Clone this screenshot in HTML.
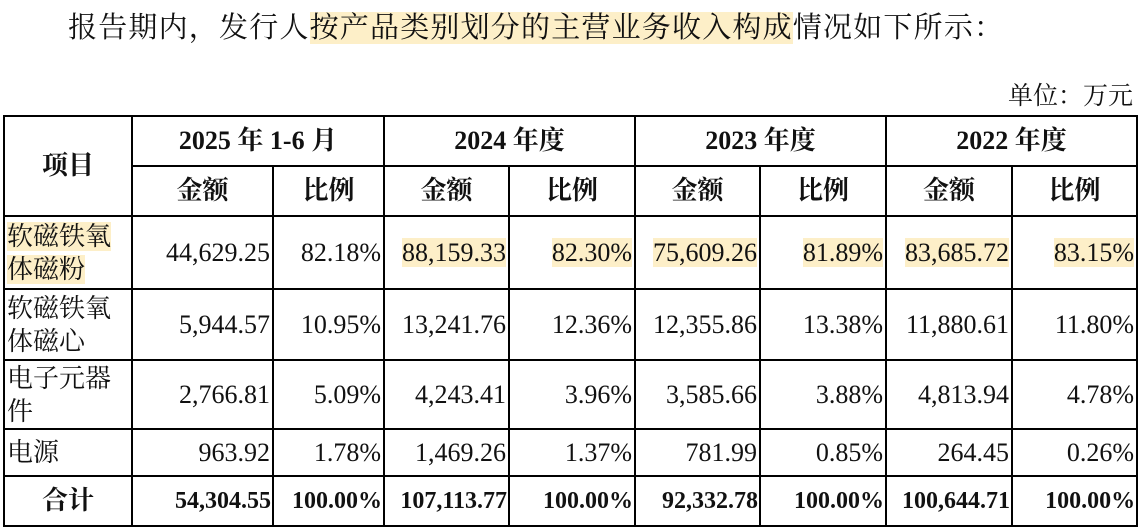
<!DOCTYPE html>
<html><head><meta charset="utf-8"><style>
body{margin:0;width:1141px;height:531px;background:#fff;position:relative;overflow:hidden;font-family:"Liberation Serif","Noto Serif CJK SC",serif;color:#111}
.t{position:absolute;left:68px;top:10px;font-size:29px;letter-spacing:1.2px;line-height:36px;white-space:nowrap}
.h{background:#fdefc8}
.u{position:absolute;right:8px;top:82px;font-size:25px;line-height:30px}
table{position:absolute;left:3px;top:115px;border-collapse:collapse;table-layout:fixed;font-size:26px;width:1133px}
td{border:2px solid #000;padding:0 2px;white-space:nowrap;line-height:30px;overflow:hidden}
td.c{text-align:center;font-weight:bold;font-size:26px}
td.r{text-align:right}
td.l{text-align:left;padding-left:2px;white-space:normal;line-height:33px;word-break:break-all}
tr.b td{font-weight:bold}
tr.b td.r{font-size:24px;padding:0 1px}
</style></head><body>
<div class="t">报告期内，发行人<span class="h">按产品类别划分的主营业务收入构成</span>情况如下所示：</div>
<div class="u">单位：万元</div>
<table>
<colgroup><col style="width:128px"><col style="width:141px"><col style="width:111px"><col style="width:125px"><col style="width:126px"><col style="width:125px"><col style="width:126px"><col style="width:126px"><col style="width:125px"></colgroup>
<tr style="height:50px"><td class="c" rowspan="2">项目</td><td class="c" colspan="2">2025 年 1-6 月</td><td class="c" colspan="2">2024 年度</td><td class="c" colspan="2">2023 年度</td><td class="c" colspan="2">2022 年度</td></tr>
<tr style="height:50px"><td class="c">金额</td><td class="c">比例</td><td class="c">金额</td><td class="c">比例</td><td class="c">金额</td><td class="c">比例</td><td class="c">金额</td><td class="c">比例</td></tr>
<tr style="height:73px"><td class="l"><span class="h">软磁铁氧体磁粉</span></td><td class="r">44,629.25</td><td class="r">82.18%</td><td class="r"><span class="h">88,159.33</span></td><td class="r"><span class="h">82.30%</span></td><td class="r"><span class="h">75,609.26</span></td><td class="r"><span class="h">81.89%</span></td><td class="r"><span class="h">83,685.72</span></td><td class="r"><span class="h">83.15%</span></td></tr>
<tr style="height:71px"><td class="l">软磁铁氧体磁心</td><td class="r">5,944.57</td><td class="r">10.95%</td><td class="r">13,241.76</td><td class="r">12.36%</td><td class="r">12,355.86</td><td class="r">13.38%</td><td class="r">11,880.61</td><td class="r">11.80%</td></tr>
<tr style="height:69px"><td class="l">电子元器件</td><td class="r">2,766.81</td><td class="r">5.09%</td><td class="r">4,243.41</td><td class="r">3.96%</td><td class="r">3,585.66</td><td class="r">3.88%</td><td class="r">4,813.94</td><td class="r">4.78%</td></tr>
<tr style="height:47px"><td class="l">电源</td><td class="r">963.92</td><td class="r">1.78%</td><td class="r">1,469.26</td><td class="r">1.37%</td><td class="r">781.99</td><td class="r">0.85%</td><td class="r">264.45</td><td class="r">0.26%</td></tr>
<tr class="b" style="height:50px"><td class="c">合计</td><td class="r">54,304.55</td><td class="r">100.00%</td><td class="r">107,113.77</td><td class="r">100.00%</td><td class="r">92,332.78</td><td class="r">100.00%</td><td class="r">100,644.71</td><td class="r">100.00%</td></tr>
</table>
</body></html>
